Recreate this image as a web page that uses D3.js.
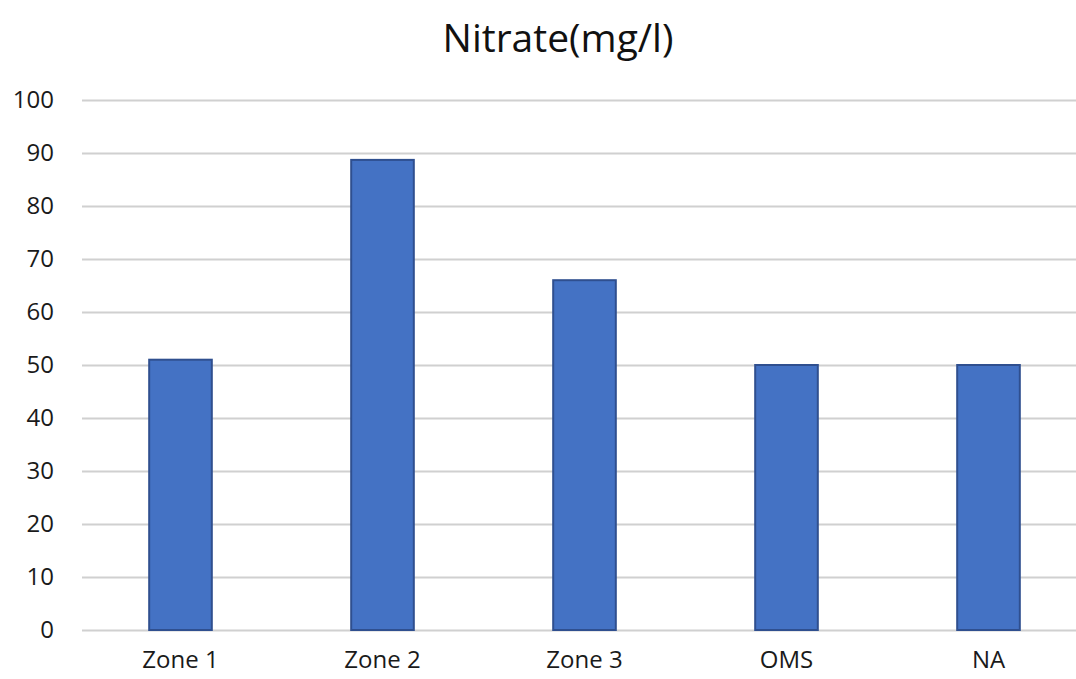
<!DOCTYPE html>
<html><head><meta charset="utf-8">
<script src="https://cdn.jsdelivr.net/npm/d3@7/dist/d3.min.js"></script>
<style>body{margin:0;background:#fff}svg{display:block}</style>
</head><body>
<script>
const categories = ["Zone 1", "Zone 2", "Zone 3", "OMS", "NA"];
const values = [51, 88.7, 66, 50, 50];
const yTicks = [0, 10, 20, 30, 40, 50, 60, 70, 80, 90, 100];
const title = "Nitrate(mg/l)";

const W = 1076, H = 679;
const svg = d3.select("body").append("svg").attr("width", W).attr("height", H);
const font = "'Open Sans', 'Liberation Sans', sans-serif";

const x = d3.scaleBand().domain(categories).range([79.5, 1089.5]).paddingInner(0.69).paddingOuter(0.345);
const y = d3.scaleLinear().domain([0, 100]).range([630, 100]);

svg.append("text").attr("x", 558).attr("y", 52).attr("text-anchor", "middle")
  .style("font-family", font).style("font-size", "39px").attr("fill", "#111").text(title);

const grid = svg.append("g").attr("transform", "translate(82,0)")
  .call(d3.axisLeft(y).tickValues(yTicks).tickSize(-1000).tickFormat(""));
grid.select(".domain").remove();
grid.selectAll("line").attr("stroke", "#d0d0d0").attr("stroke-width", 2);

const yAx = svg.append("g").attr("transform", "translate(54,0)")
  .call(d3.axisLeft(y).tickValues(yTicks).tickSize(0).tickPadding(0));
yAx.select(".domain").remove();
yAx.selectAll("text").style("font-family", font).style("font-size", "24px").attr("fill", "#1a1a1a");

svg.append("g").selectAll("rect").data(values).join("rect")
  .attr("x", (d, i) => x(categories[i]))
  .attr("width", x.bandwidth())
  .attr("y", d => y(d))
  .attr("height", d => y(0) - y(d))
  .attr("fill", "#4472C4").attr("stroke", "#2F4F8F").attr("stroke-width", 2);

const xAx = svg.append("g").attr("transform", "translate(0,630)")
  .call(d3.axisBottom(x).tickSize(0).tickPadding(21));
xAx.select(".domain").remove();
xAx.selectAll("text").style("font-family", font).style("font-size", "24px").attr("fill", "#1a1a1a");
</script>
</body></html>
